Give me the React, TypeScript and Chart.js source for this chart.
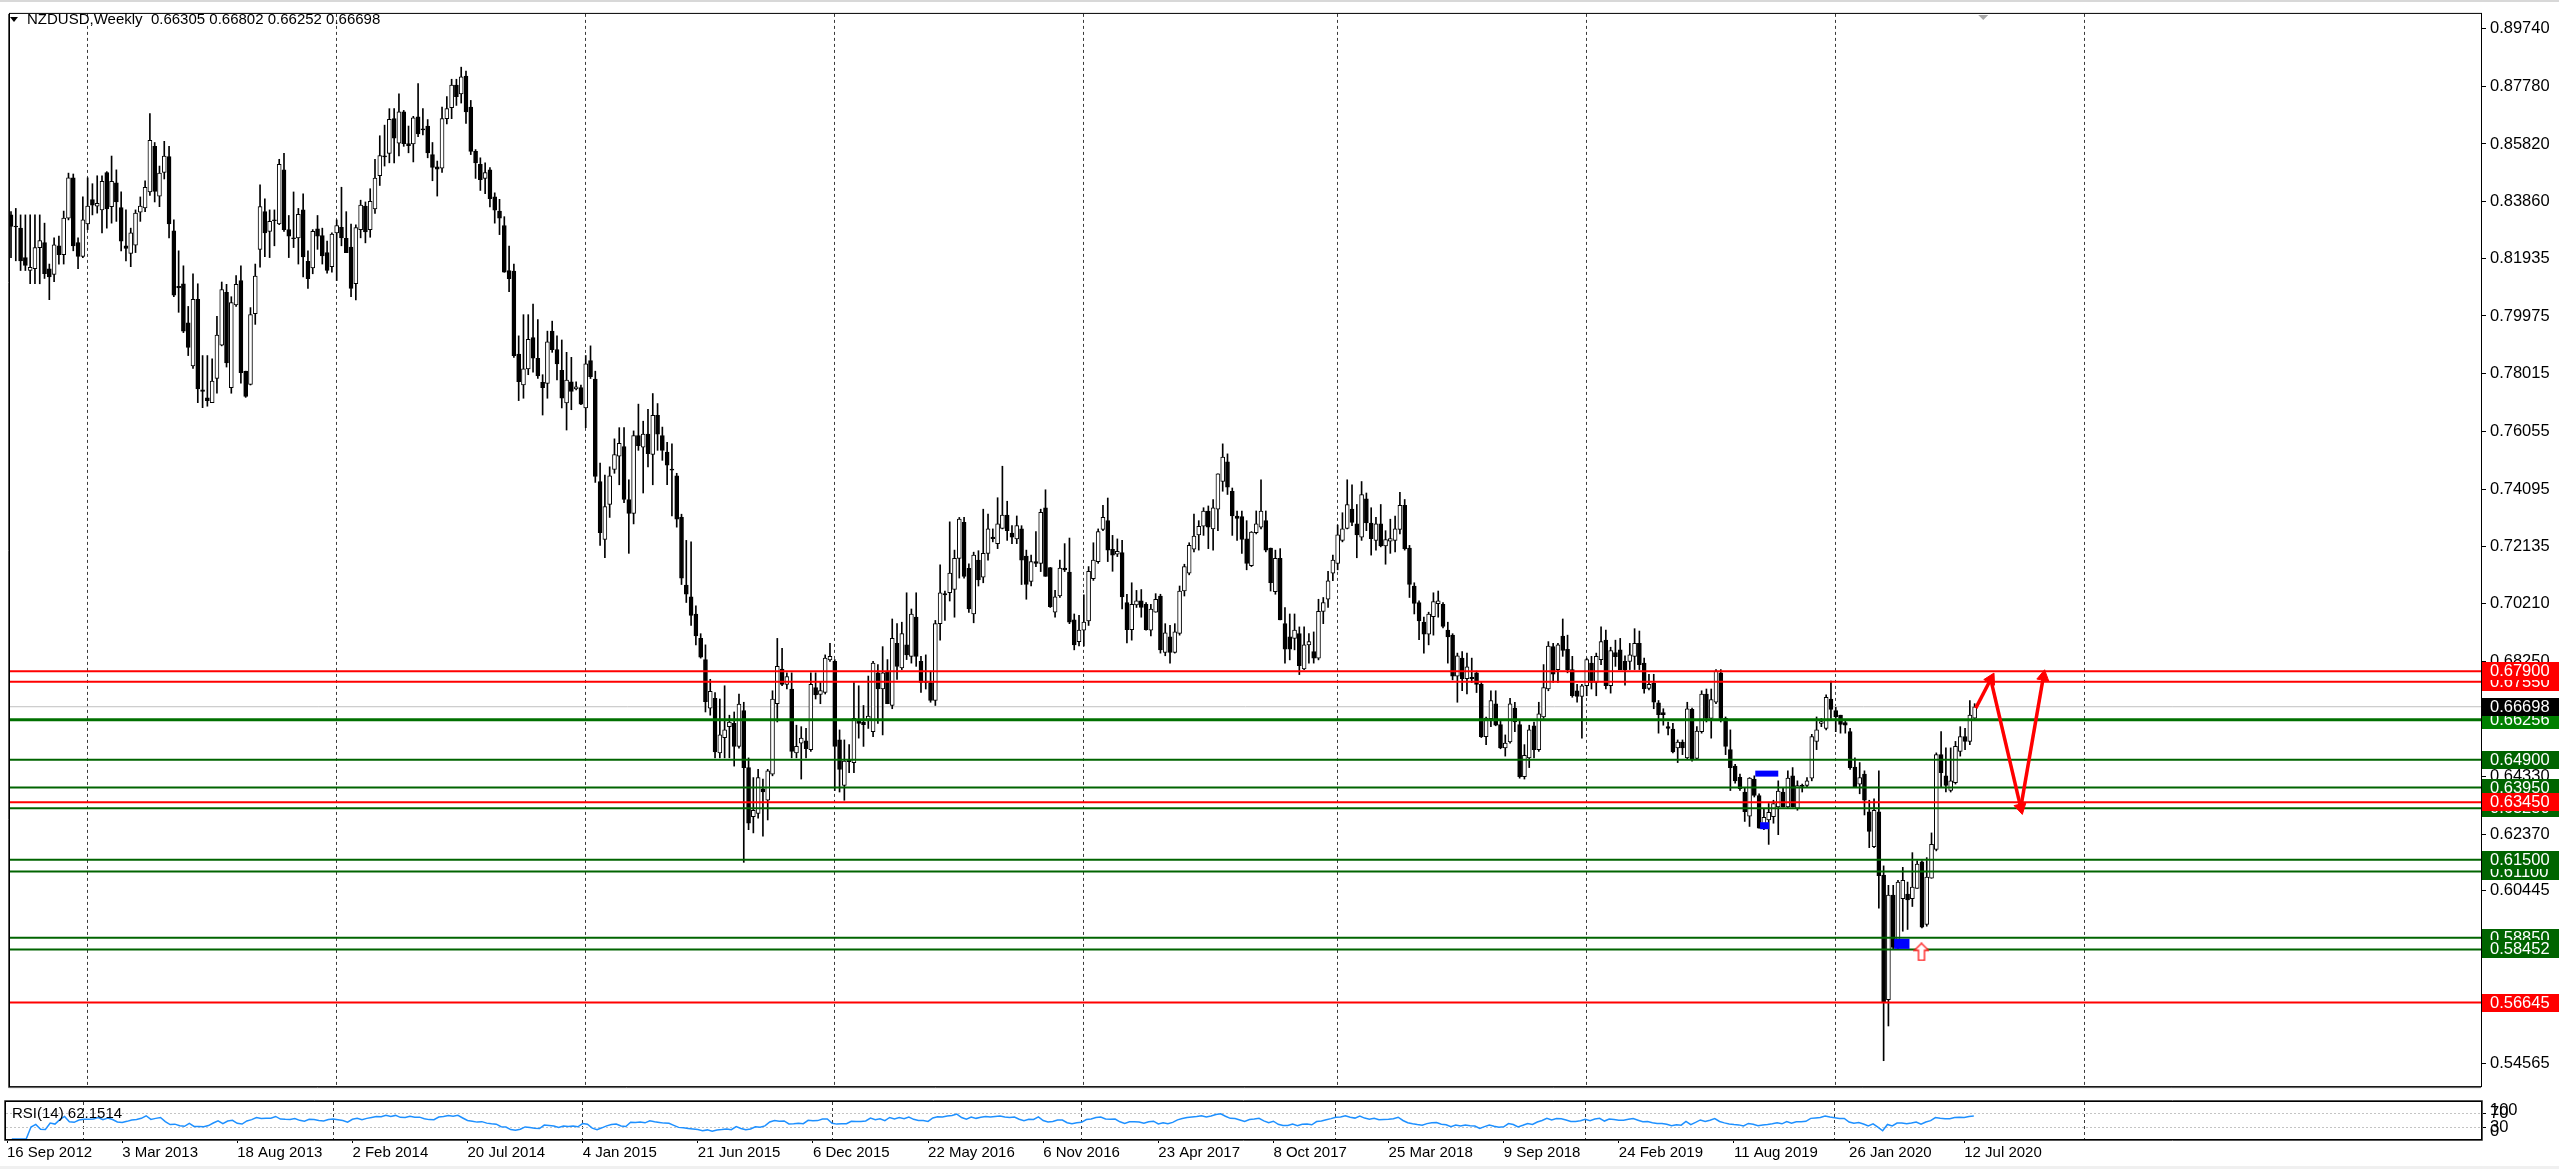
import React, { useEffect, useRef } from 'react';
import { Chart, registerables } from 'chart.js';

Chart.register(...registerables);

const FONT = '"Liberation Sans", Arial, sans-serif';

// ---- weekly NZDUSD candles, week 0 = 16 Sep 2012 ----
const opens = [
  .8341,.8302,.8296,.8196,.8152,.8158,.8230,.8247,.8158,.8139,
  .8236,.8206,.8330,.8467,.8247,.8200,.8310,.8393,.8371,.8358,
  .8485,.8369,.8450,.8366,.8236,.8210,.8238,.8350,.8365,.8419,
  .8574,.8405,.8485,.8539,.8287,.8098,.8107,.7974,.7828,.8054,
  .7747,.7719,.7703,.7785,.7898,.8078,.7754,.8035,.8118,.7810,
  .7765,.8005,.8224,.8352,.8285,.8324,.8310,.8494,.8291,.8261,
  .8263,.8358,.8183,.8161,.8294,.8271,.8213,.8165,.8280,.8299,
  .8261,.8232,.8107,.8291,.8371,.8291,.8361,.8474,.8541,.8550,
  .8668,.8585,.8691,.8583,.8582,.8674,.8632,.8643,.8546,.8504,
  .8500,.8668,.8705,.8782,.8752,.8813,.8707,.8557,.8513,.8465,
  .8494,.8402,.8354,.8305,.8152,.8150,.7868,.7763,.7818,.7924,
  .7854,.7772,.7768,.7946,.7883,.7813,.7702,.7774,.7750,.7754,
  .7685,.7846,.7783,.7435,.7238,.7357,.7476,.7521,.7554,.7374,
  .7327,.7591,.7552,.7596,.7527,.7660,.7591,.7535,.7477,.7454,
  .7313,.7083,.7043,.6985,.6902,.6830,.6665,.6698,.6513,.6565,
  .6602,.6613,.6535,.6657,.6463,.6296,.6307,.6391,.6352,.6441,
  .6680,.6798,.6746,.6730,.6513,.6546,.6554,.6524,.6735,.6712,
  .6718,.6829,.6824,.6557,.6402,.6491,.6480,.6624,.6618,.6627,
  .6585,.6785,.6730,.6791,.6674,.6885,.6802,.6880,.6841,.6974,
  .6824,.6757,.6752,.6691,.6952,.7054,.7057,.7068,.7174,.7296,
  .7140,.6985,.7168,.7110,.7191,.7246,.7224,.7276,.7321,.7260,
  .7240,.7274,.7182,.7096,.7163,.7157,.7346,.7143,.6991,.7046,
  .7141,.7127,.6965,.6891,.6930,.6961,.7105,.7163,.7272,.7302,
  .7205,.7188,.7194,.7024,.6932,.7016,.7030,.7018,.6930,.6991,
  .7046,.6854,.6907,.6854,.6919,.7063,.7124,.7205,.7254,.7283,
  .7335,.7274,.7341,.7435,.7502,.7402,.7318,.7316,.7240,.7149,
  .7261,.7280,.7302,.7209,.7061,.7174,.6952,.6907,.6902,.6918,
  .6798,.6880,.6857,.6835,.6994,.7035,.7124,.7157,.7235,.7276,
  .7341,.7291,.7246,.7376,.7294,.7235,.7291,.7216,.7232,.7235,
  .7272,.7354,.7209,.7080,.7024,.6957,.6916,.6976,.7020,.7018,
  .6930,.6913,.6774,.6835,.6765,.6770,.6785,.6746,.6568,.6629,
  .6680,.6609,.6530,.6550,.6665,.6609,.6432,.6496,.6605,.6524,
  .6635,.6730,.6874,.6796,.6910,.6865,.6796,.6724,.6705,.6741,
  .6818,.6752,.6830,.6896,.6741,.6854,.6863,.6824,.6824,.6841,
  .6885,.6818,.6732,.6750,.6683,.6650,.6602,.6594,.6530,.6550,
  .6496,.6661,.6494,.6585,.6713,.6630,.6685,.6785,.6630,.6524,
  .6468,.6430,.6380,.6298,.6424,.6368,.6257,.6285,.6296,.6329,
  .6380,.6329,.6435,.6324,.6402,.6402,.6427,.6552,.6613,.6596,
  .6696,.6657,.6641,.6616,.6585,.6465,.6407,.6441,.6313,.6194,
  .6313,.6098,.5674,.6030,.5852,.6018,.6033,.6018,.6052,.6143,
  .5930,.6087,.6185,.6507,.6435,.6385,.6412,.6518,.6568,.6552,
  .66305,
];
const highs = [
  .8352,.8363,.8341,.8341,.8341,.8341,.8341,.8313,.8174,.8263,
  .8269,.8354,.8483,.8480,.8263,.8402,.8467,.8447,.8474,.8474,
  .8488,.8541,.8494,.8419,.8358,.8296,.8358,.8402,.8457,.8685,
  .8587,.8507,.8591,.8574,.8324,.8219,.8168,.8030,.8141,.8107,
  .7863,.7863,.7852,.7996,.8113,.8105,.8063,.8135,.8168,.7810,
  .8026,.8174,.8443,.8396,.8358,.8358,.8530,.8550,.8339,.8419,
  .8363,.8413,.8219,.8291,.8339,.8296,.8252,.8280,.8324,.8435,
  .8352,.8310,.8307,.8391,.8385,.8430,.8530,.8610,.8646,.8702,
  .8702,.8752,.8696,.8643,.8676,.8787,.8702,.8665,.8587,.8524,
  .8707,.8743,.8802,.8802,.8843,.8830,.8730,.8563,.8535,.8518,
  .8502,.8416,.8394,.8335,.8235,.8174,.7930,.8002,.8002,.8038,
  .7985,.7798,.7946,.7980,.7930,.7916,.7874,.7857,.7774,.7763,
  .7863,.7896,.7810,.7498,.7457,.7485,.7580,.7618,.7618,.7441,
  .7607,.7698,.7640,.7680,.7734,.7700,.7620,.7568,.7563,.7463,
  .7324,.7235,.7230,.7013,.6918,.6880,.6763,.6718,.6696,.6741,
  .6641,.6652,.6713,.6685,.6496,.6429,.6457,.6424,.6457,.6724,
  .6902,.6868,.6785,.6785,.6607,.6602,.6596,.6785,.6785,.6752,
  .6846,.6885,.6830,.6591,.6557,.6541,.6752,.6741,.6674,.6774,
  .6824,.6813,.6874,.6830,.6968,.6952,.6957,.7057,.7002,.7057,
  .6841,.6846,.6791,.6963,.7152,.7063,.7298,.7202,.7313,.7313,
  .7155,.7195,.7200,.7341,.7324,.7274,.7380,.7487,.7368,.7285,
  .7318,.7285,.7202,.7185,.7265,.7341,.7407,.7143,.7065,.7168,
  .7224,.7243,.6985,.6980,.7050,.7146,.7227,.7274,.7354,.7379,
  .7252,.7240,.7235,.7052,.7091,.7065,.7068,.7024,.7018,.7054,
  .7052,.6952,.6946,.6952,.7080,.7154,.7227,.7324,.7302,.7346,
  .7352,.7374,.7461,.7563,.7529,.7413,.7335,.7335,.7302,.7265,
  .7335,.7441,.7335,.7209,.7202,.7207,.7007,.6985,.6985,.6941,
  .6941,.6918,.6924,.7035,.7041,.7130,.7185,.7287,.7329,.7441,
  .7424,.7357,.7435,.7396,.7346,.7313,.7357,.7268,.7307,.7318,
  .7398,.7374,.7218,.7091,.7030,.6974,.6991,.7057,.7063,.7024,
  .6957,.6918,.6852,.6857,.6852,.6835,.6791,.6752,.6635,.6724,
  .6724,.6624,.6574,.6698,.6685,.6624,.6541,.6607,.6618,.6685,
  .6813,.6891,.6885,.6885,.6968,.6913,.6841,.6746,.6746,.6835,
  .6841,.6852,.6941,.6930,.6872,.6896,.6902,.6843,.6885,.6935,
  .6927,.6835,.6780,.6780,.6691,.6663,.6618,.6613,.6557,.6557,
  .6685,.6665,.6602,.6724,.6730,.6730,.6796,.6796,.6635,.6591,
  .6474,.6441,.6396,.6429,.6435,.6374,.6324,.6341,.6352,.6418,
  .6396,.6452,.6463,.6418,.6407,.6429,.6576,.6635,.6630,.6710,
  .6757,.6668,.6641,.6624,.6596,.6496,.6480,.6452,.6352,.6357,
  .6452,.6129,.6063,.6063,.6080,.6124,.6074,.6174,.6146,.6146,
  .6157,.6241,.6513,.6585,.6530,.6530,.6552,.6602,.6596,.6691,
  .66802,
];
const lows = [
  .8196,.8185,.8152,.8152,.8107,.8107,.8107,.8125,.8053,.8114,
  .8174,.8174,.8324,.8219,.8158,.8196,.8291,.8341,.8347,.8280,
  .8296,.8313,.8319,.8219,.8185,.8165,.8213,.8319,.8352,.8407,
  .8385,.8369,.8463,.8263,.8063,.8010,.7941,.7863,.7819,.7703,
  .7686,.7691,.7703,.7735,.7896,.7824,.7735,.8030,.7769,.7721,
  .7763,.7969,.8163,.8199,.8196,.8236,.8308,.8285,.8196,.8230,
  .8174,.8130,.8091,.8141,.8224,.8174,.8143,.8146,.8118,.8236,
  .8213,.8063,.8052,.8263,.8246,.8265,.8346,.8441,.8507,.8518,
  .8518,.8541,.8574,.8552,.8521,.8607,.8613,.8535,.8457,.8405,
  .8485,.8650,.8668,.8713,.8721,.8652,.8546,.8465,.8424,.8413,
  .8368,.8313,.8274,.8146,.8080,.7857,.7710,.7718,.7798,.7807,
  .7785,.7661,.7718,.7874,.7780,.7685,.7610,.7679,.7746,.7696,
  .7618,.7785,.7432,.7218,.7176,.7313,.7463,.7424,.7363,.7191,
  .7291,.7541,.7396,.7485,.7424,.7541,.7507,.7424,.7318,.7280,
  .7085,.7024,.6946,.6880,.6835,.6652,.6641,.6496,.6496,.6496,
  .6496,.6468,.6529,.6141,.6252,.6241,.6291,.6230,.6285,.6435,
  .6618,.6741,.6730,.6496,.6496,.6424,.6496,.6518,.6696,.6680,
  .6713,.6824,.6385,.6380,.6352,.6446,.6446,.6563,.6535,.6596,
  .6568,.6613,.6574,.6680,.6663,.6763,.6796,.6830,.6818,.6807,
  .6718,.6730,.6685,.6674,.6896,.6963,.7029,.6974,.7107,.7107,
  .6990,.6955,.7080,.7091,.7168,.7230,.7207,.7274,.7235,.7224,
  .7224,.7085,.7035,.7080,.7146,.7129,.7113,.7007,.6974,.7041,
  .7129,.6952,.6863,.6876,.6876,.6946,.7099,.7157,.7268,.7163,
  .7130,.7180,.7002,.6887,.6896,.7007,.6974,.6930,.6910,.6991,
  .6852,.6843,.6818,.6852,.6913,.7046,.7118,.7196,.7202,.7252,
  .7207,.7202,.7268,.7402,.7391,.7252,.7235,.7191,.7135,.7146,
  .7257,.7274,.7196,.7063,.7052,.6965,.6818,.6829,.6863,.6779,
  .6796,.6818,.6818,.6829,.6952,.7007,.7098,.7135,.7230,.7274,
  .7285,.7176,.7235,.7268,.7185,.7202,.7213,.7154,.7191,.7196,
  .7257,.7202,.7041,.6985,.6898,.6852,.6880,.6913,.6974,.6938,
  .6818,.6761,.6685,.6724,.6713,.6752,.6718,.6565,.6541,.6602,
  .6605,.6527,.6502,.6546,.6585,.6427,.6424,.6463,.6496,.6518,
  .6630,.6724,.6752,.6752,.6841,.6785,.6702,.6685,.6563,.6707,
  .6730,.6707,.6813,.6730,.6716,.6807,.6796,.6743,.6796,.6796,
  .6796,.6716,.6727,.6663,.6580,.6607,.6574,.6513,.6480,.6507,
  .6491,.6485,.6491,.6580,.6618,.6563,.6680,.6618,.6507,.6385,
  .6410,.6385,.6280,.6263,.6363,.6257,.6252,.6202,.6274,.6235,
  .6329,.6324,.6329,.6318,.6380,.6396,.6418,.6524,.6602,.6591,
  .6630,.6585,.6580,.6580,.6457,.6396,.6374,.6302,.6191,.6191,
  .5985,.5467,.5585,.5846,.5846,.5907,.5913,.5991,.6052,.5918,
  .5924,.6087,.6180,.6396,.6380,.6380,.6407,.6502,.6524,.6541,
  .66252,
];
const closes = [
  .8302,.8300,.8185,.8169,.8163,.8230,.8254,.8141,.8130,.8239,
  .8206,.8330,.8467,.8236,.8200,.8324,.8371,.8374,.8380,.8455,
  .8361,.8455,.8385,.8252,.8227,.8280,.8347,.8371,.8435,.8594,
  .8421,.8483,.8541,.8310,.8068,.8093,.7946,.7891,.8054,.7750,
  .7741,.7710,.7776,.7933,.8087,.7838,.8043,.8105,.7805,.7724,
  .8002,.8133,.8369,.8280,.8319,.8321,.8513,.8291,.8269,.8260,
  .8343,.8198,.8124,.8285,.8269,.8202,.8152,.8276,.8305,.8263,
  .8213,.8091,.8298,.8374,.8283,.8387,.8466,.8543,.8538,.8666,
  .8602,.8691,.8583,.8576,.8671,.8616,.8630,.8552,.8502,.8496,
  .8668,.8702,.8782,.8743,.8810,.8691,.8557,.8518,.8461,.8485,
  .8396,.8357,.8330,.8146,.8124,.7863,.7774,.7818,.7918,.7854,
  .7794,.7754,.7910,.7883,.7835,.7718,.7780,.7741,.7757,.7698,
  .7835,.7791,.7452,.7261,.7350,.7454,.7527,.7565,.7374,.7327,
  .7591,.7557,.7596,.7530,.7660,.7596,.7541,.7491,.7474,.7307,
  .7107,.7052,.6980,.6910,.6838,.6687,.6722,.6516,.6574,.6591,
  .6618,.6535,.6679,.6463,.6274,.6318,.6429,.6380,.6452,.6696,
  .6807,.6746,.6772,.6518,.6535,.6563,.6527,.6746,.6710,.6725,
  .6835,.6841,.6535,.6457,.6485,.6483,.6630,.6613,.6609,.6638,
  .6818,.6730,.6785,.6680,.6902,.6807,.6918,.6846,.6985,.6841,
  .6752,.6752,.6691,.6952,.7057,.7050,.7124,.7174,.7307,.7113,
  .7002,.7185,.7101,.7191,.7274,.7241,.7291,.7321,.7268,.7246,
  .7285,.7168,.7085,.7163,.7157,.7330,.7113,.7010,.7043,.7141,
  .7135,.6957,.6880,.6930,.6957,.7130,.7168,.7265,.7313,.7202,
  .7185,.7198,.7043,.6932,.7018,.7030,.7007,.6932,.7002,.7035,
  .6863,.6921,.6854,.6924,.7063,.7146,.7218,.7250,.7283,.7335,
  .7280,.7346,.7461,.7518,.7416,.7318,.7310,.7238,.7157,.7263,
  .7291,.7335,.7202,.7091,.7174,.6965,.6865,.6865,.6930,.6809,
  .6880,.6891,.6835,.6994,.7024,.7098,.7168,.7254,.7274,.7357,
  .7296,.7254,.7391,.7294,.7241,.7291,.7216,.7238,.7241,.7274,
  .7354,.7207,.7085,.7021,.6961,.6916,.6985,.7027,.7030,.6943,
  .6907,.6774,.6843,.6765,.6805,.6765,.6746,.6568,.6631,.6691,
  .6607,.6530,.6546,.6680,.6618,.6432,.6505,.6591,.6524,.6646,
  .6735,.6876,.6780,.6880,.6861,.6796,.6707,.6705,.6741,.6830,
  .6752,.6841,.6891,.6741,.6861,.6840,.6796,.6796,.6846,.6885,
  .6813,.6730,.6746,.6685,.6643,.6643,.6596,.6516,.6550,.6530,
  .6663,.6491,.6587,.6713,.6630,.6694,.6791,.6630,.6535,.6463,
  .6418,.6391,.6313,.6427,.6368,.6257,.6294,.6311,.6341,.6383,
  .6329,.6427,.6329,.6402,.6399,.6418,.6568,.6591,.6619,.6702,
  .6661,.6635,.6610,.6607,.6463,.6398,.6429,.6352,.6246,.6318,
  .6096,.5668,.6030,.5852,.6074,.6080,.6013,.6057,.6135,.5921,
  .6091,.6202,.6507,.6446,.6402,.6418,.6535,.6568,.6552,.6641,
  .66698,
];

// bottom date axis (every 24 weeks)
const dateTickIdx = [0, 24, 48, 72, 96, 120, 144, 168, 192, 216, 240, 264, 288, 312, 336, 360, 384, 408];
const dateTickLabels = [
  '16 Sep 2012', '3 Mar 2013', '18 Aug 2013', '2 Feb 2014', '20 Jul 2014', '4 Jan 2015',
  '21 Jun 2015', '6 Dec 2015', '22 May 2016', '6 Nov 2016', '23 Apr 2017', '8 Oct 2017',
  '25 Mar 2018', '9 Sep 2018', '24 Feb 2019', '11 Aug 2019', '26 Jan 2020', '12 Jul 2020',
];
// first week of each year (period separators)
const yearLineIdx = [16, 68, 120, 172, 224, 277, 329, 381, 433];

// right price axis
const priceTicks = [
  0.8974, 0.8778, 0.8582, 0.8386, 0.81935, 0.79975, 0.78015, 0.76055, 0.74095, 0.72135,
  0.7021, 0.6825, 0.6629, 0.6433, 0.6237, 0.60445, 0.58485, 0.56525, 0.54565,
];

// horizontal levels (listed in label drawing order)
const greenLevels = [0.5885, 0.58452, 0.611, 0.615, 0.6325, 0.6395, 0.649, 0.66256];
const mainGreenLevel = 0.66256;
const redLevels = [0.56645, 0.6345, 0.6755, 0.679];
const bidPrice = 0.66698;

// projection arrows [week, price]
const arrowLegs = [
  [[410.24, 0.6665], [413.37, 0.6763]],
  [[413.37, 0.6763], [419.63, 0.6327]],
  [[419.63, 0.6327], [424.36, 0.6772]],
];
// blue rectangles: [weekFrom, weekTo, priceMid]
const blueRects = [
  [364.2, 369.0, 0.64425],
  [365.2, 367.1, 0.62655],
  [393.2, 396.4, 0.5864],
];
const blueRectPx = [6, 7, 10];
// hollow up arrow marker
const upMarker = [398.9, 0.5837];

const rsiPeriod = 14;
const rsiText = 'RSI(14) 62.1514';
const headerText = 'NZDUSD,Weekly  0.66305 0.66802 0.66252 0.66698';

const X_MIN = -0.21;
const X_MAX = 515.73;
const Y_MIN = 0.53807;
const Y_MAX = 0.9024;

function computeRsi(c: number[], n: number) {
  const out: (number | null)[] = [null];
  let ag = 0;
  let al = 0;
  for (let i = 1; i < c.length; i++) {
    const d = c[i] - c[i - 1];
    const g = Math.max(d, 0);
    const l = Math.max(-d, 0);
    if (i <= n) {
      ag = (ag * (i - 1) + g) / i;
      al = (al * (i - 1) + l) / i;
    } else {
      ag = (ag * (n - 1) + g) / n;
      al = (al * (n - 1) + l) / n;
    }
    out.push(al === 0 ? 100 : 100 - 100 / (1 + ag / al));
  }
  return out;
}

function makeUpArrow() {
  const c = document.createElement('canvas');
  c.width = 16;
  c.height = 19;
  const g = c.getContext('2d')!;
  g.beginPath();
  g.moveTo(8, 1);
  g.lineTo(15, 8);
  g.lineTo(11, 8);
  g.lineTo(11, 18);
  g.lineTo(5, 18);
  g.lineTo(5, 8);
  g.lineTo(1, 8);
  g.closePath();
  g.fillStyle = '#ffffff';
  g.fill();
  g.strokeStyle = '#ff2020';
  g.lineWidth = 1.4;
  g.stroke();
  return c;
}

export default function App() {
  const mainRef = useRef<HTMLCanvasElement>(null);
  const rsiRef = useRef<HTMLCanvasElement>(null);

  useEffect(() => {
    Chart.defaults.font.family = FONT;
    const axisFont = { family: FONT, size: 15 };
    const priceFont = { family: FONT, size: 16.5 };

    const bodies = opens.map((o, i) => ({ x: i, y: [o, closes[i]] }));
    const wicks = lows.map((l, i) => ({ x: i, y: [l, highs[i]] }));
    const bodyFill = opens.map((o, i) => (closes[i] >= o ? '#ffffff' : '#000000'));

    const levelDs = (v: number, color: string, width: number, order: number) => ({
      type: 'line' as const,
      data: [{ x: X_MIN - 2, y: v }, { x: X_MAX + 2, y: v }],
      borderColor: color,
      borderWidth: width,
      pointRadius: 0,
      clip: 0,
      order,
    });

    const arrowDatasets = arrowLegs.map((leg) => ({
      type: 'line' as const,
      data: leg.map((p) => ({ x: p[0], y: p[1] })),
      borderColor: '#ff0000',
      borderWidth: 3.5,
      pointRadius: (ctx: any) => (ctx.dataIndex === 1 ? 7 : 0),
      pointStyle: 'triangle',
      pointBackgroundColor: '#ff0000',
      pointBorderColor: '#ff0000',
      pointBorderWidth: 1,
      rotation: (ctx: any) => {
        const ch = ctx.chart;
        const xs = ch.scales.x;
        const ys = ch.scales.y;
        if (!xs || !ys) return 0;
        const dx = xs.getPixelForValue(leg[1][0]) - xs.getPixelForValue(leg[0][0]);
        const dy = ys.getPixelForValue(leg[1][1]) - ys.getPixelForValue(leg[0][1]);
        return (Math.atan2(dx, -dy) * 180) / Math.PI;
      },
      clip: 0,
      order: 0,
    }));

    const rectDatasets = blueRects.map((r, k) => ({
      type: 'line' as const,
      data: [{ x: r[0], y: r[2] }, { x: r[1], y: r[2] }],
      borderColor: '#0000ff',
      borderWidth: blueRectPx[k],
      borderCapStyle: 'butt' as const,
      pointRadius: 0,
      order: 1,
    }));

    const arrowImg = makeUpArrow();

    const mainDecor = {
      id: 'mainDecor',
      afterDraw(chart: any) {
        const { ctx, chartArea: a, scales } = chart;
        const ys = scales.y;
        const xs = scales.x;
        ctx.save();
        // frame
        ctx.strokeStyle = '#000';
        ctx.lineWidth = 1;
        ctx.strokeRect(a.left - 0.5, a.top - 0.5, a.right - a.left + 1, a.bottom - a.top + 1);
        ctx.strokeStyle = '#555';
        ctx.beginPath();
        ctx.moveTo(a.left - 1.5, a.top);
        ctx.lineTo(a.left - 1.5, a.bottom + 1.5);
        ctx.lineTo(a.right, a.bottom + 1.5);
        ctx.stroke();
        // chart shift marker
        const sx = xs.getPixelForValue(411.8);
        ctx.fillStyle = '#a8a8a8';
        ctx.beginPath();
        ctx.moveTo(sx - 5, a.top + 1);
        ctx.lineTo(sx + 5, a.top + 1);
        ctx.lineTo(sx, a.top + 6);
        ctx.closePath();
        ctx.fill();
        // header
        ctx.fillStyle = '#000';
        ctx.beginPath();
        ctx.moveTo(10, 17);
        ctx.lineTo(18, 17);
        ctx.lineTo(14, 22);
        ctx.closePath();
        ctx.fill();
        ctx.font = '15px ' + FONT;
        ctx.textBaseline = 'middle';
        ctx.textAlign = 'left';
        ctx.fillText(headerText, 27, 20);
        // price boxes
        const boxes: [number, string][] = [];
        greenLevels.forEach((v) => boxes.push([v, v === mainGreenLevel ? '#008000' : '#006400']));
        redLevels.forEach((v) => boxes.push([v, '#ff0000']));
        boxes.push([bidPrice, '#000000']);
        const bx = a.right + 1;
        const bw = chart.width - bx;
        ctx.font = '16.5px ' + FONT;
        boxes.forEach(([v, col]) => {
          const py = ys.getPixelForValue(v);
          ctx.fillStyle = col;
          ctx.fillRect(bx, Math.round(py - 9), bw, 18);
          ctx.fillStyle = '#ffffff';
          ctx.fillText(v.toFixed(5), a.right + 9, py + 0.5);
        });
        ctx.restore();
      },
    };

    const main = new Chart(mainRef.current!, {
      type: 'bar',
      data: {
        datasets: [
          {
            type: 'line',
            data: [{ x: X_MIN - 2, y: bidPrice }, { x: X_MAX + 2, y: bidPrice }],
            borderColor: '#c0c0c0',
            borderWidth: 1,
            pointRadius: 0,
            clip: 0,
            order: 6,
          } as any,
          {
            type: 'bar',
            data: wicks as any,
            backgroundColor: '#000000',
            borderWidth: 0,
            grouped: false,
            barThickness: 1,
            maxBarThickness: 1,
            minBarLength: 1,
            order: 5,
          } as any,
          {
            type: 'bar',
            data: bodies as any,
            backgroundColor: bodyFill,
            borderColor: '#000000',
            borderWidth: 1,
            borderSkipped: false,
            grouped: false,
            barThickness: 4,
            maxBarThickness: 4,
            minBarLength: 1,
            order: 4,
          } as any,
          ...greenLevels.map((v) => levelDs(v, v === mainGreenLevel ? '#007000' : '#006400', v === mainGreenLevel ? 3 : 2, 3)),
          ...redLevels.map((v) => levelDs(v, '#ff0000', 2, 2)),
          ...rectDatasets,
          ...arrowDatasets,
          {
            type: 'line',
            data: [{ x: upMarker[0], y: upMarker[1] }],
            showLine: false,
            pointStyle: arrowImg,
            pointRadius: 9,
            order: -1,
          } as any,
        ] as any,
      },
      options: {
        responsive: false,
        animation: false,
        devicePixelRatio: 1,
        events: [],
        layout: { padding: { left: 6, top: 5, right: 0, bottom: 2 } },
        plugins: { legend: { display: false }, tooltip: { enabled: false } },
        scales: {
          x: {
            type: 'linear',
            min: X_MIN,
            max: X_MAX,
            offset: false,
            afterBuildTicks: (s: any) => {
              s.ticks = yearLineIdx.map((v) => ({ value: v }));
            },
            afterFit: (s: any) => {
              s.height = 0;
            },
            ticks: { display: false },
            grid: { color: '#3a3a3a', lineWidth: 1, drawTicks: false, offset: false },
            border: { display: false, dash: [3, 3] },
          },
          y: {
            type: 'linear',
            position: 'right',
            min: Y_MIN,
            max: Y_MAX,
            stacked: false,
            afterBuildTicks: (s: any) => {
              s.ticks = priceTicks.map((v) => ({ value: v }));
            },
            afterFit: (s: any) => {
              s.width = 78;
            },
            ticks: {
              font: priceFont,
              color: '#000',
              padding: 4,
              autoSkip: false,
              callback: (v: any) => Number(v).toFixed(5),
            },
            grid: { drawOnChartArea: false, drawTicks: true, tickLength: 5, color: '#000' },
            border: { display: true, color: '#000' },
          },
        },
      } as any,
      plugins: [mainDecor],
    });

    const rsi = computeRsi(closes, rsiPeriod);

    const rsiDecor = {
      id: 'rsiDecor',
      afterDraw(chart: any) {
        const { ctx, chartArea: a, scales } = chart;
        const ys = scales.y;
        ctx.save();
        ctx.strokeStyle = '#000';
        ctx.lineWidth = 1;
        ctx.strokeRect(a.left - 0.5, a.top - 0.5, a.right - a.left + 1, a.bottom - a.top + 1);
        ctx.strokeStyle = '#555';
        ctx.beginPath();
        ctx.moveTo(a.left - 1.5, a.top - 1.5);
        ctx.lineTo(a.right + 1.5, a.top - 1.5);
        ctx.lineTo(a.right + 1.5, a.bottom + 1.5);
        ctx.lineTo(a.left - 1.5, a.bottom + 1.5);
        ctx.closePath();
        ctx.stroke();
        ctx.font = '15px ' + FONT;
        ctx.textBaseline = 'middle';
        ctx.textAlign = 'left';
        ctx.fillStyle = '#000';
        ctx.fillText(rsiText, 12, 14);
        const lx = a.right + 9;
        ctx.font = '16.5px ' + FONT;
        ctx.fillText('100', lx, ys.getPixelForValue(100) + 8);
        ctx.fillText('70', lx, ys.getPixelForValue(70));
        ctx.fillText('30', lx, ys.getPixelForValue(30));
        ctx.fillText('0', lx, ys.getPixelForValue(0) - 8);
        ctx.restore();
      },
    };

    const rsiChart = new Chart(rsiRef.current!, {
      type: 'line',
      data: {
        datasets: [
          {
            data: rsi.map((v, i) => ({ x: i, y: v })) as any,
            borderColor: '#1e90ff',
            borderWidth: 1.5,
            pointRadius: 0,
            xAxisID: 'x',
            yAxisID: 'y',
          },
        ],
      },
      options: {
        responsive: false,
        animation: false,
        devicePixelRatio: 1,
        events: [],
        layout: { padding: { left: 6, top: 2, right: 0, bottom: 0 } },
        plugins: { legend: { display: false }, tooltip: { enabled: false } },
        scales: {
          x: {
            type: 'linear',
            position: 'bottom',
            min: X_MIN,
            max: X_MAX,
            afterBuildTicks: (s: any) => {
              s.ticks = dateTickIdx.map((v) => ({ value: v }));
            },
            afterFit: (s: any) => {
              s.height = 30;
            },
            ticks: {
              font: axisFont,
              color: '#000',
              align: 'start',
              padding: 1,
              autoSkip: false,
              maxRotation: 0,
              minRotation: 0,
              callback: (_v: any, i: number) => dateTickLabels[i],
            },
            grid: { drawOnChartArea: false, drawTicks: true, tickLength: 4, color: '#000' },
            border: { display: false },
          },
          x2: {
            type: 'linear',
            position: 'top',
            min: X_MIN,
            max: X_MAX,
            afterBuildTicks: (s: any) => {
              s.ticks = yearLineIdx.map((v) => ({ value: v }));
            },
            afterFit: (s: any) => {
              s.height = 0;
            },
            ticks: { display: false },
            grid: { color: '#3a3a3a', drawTicks: false },
            border: { display: false, dash: [3, 3] },
          },
          y: {
            type: 'linear',
            position: 'right',
            min: 0,
            max: 100,
            afterBuildTicks: (s: any) => {
              s.ticks = [30, 70].map((v) => ({ value: v }));
            },
            afterFit: (s: any) => {
              s.width = 78;
            },
            ticks: { display: false },
            grid: { color: '#c4c4c4', drawTicks: true, tickLength: 5, tickColor: '#000' },
            border: { display: false, dash: [2, 2] },
          },
        },
      } as any,
      plugins: [rsiDecor],
    });

    return () => {
      main.destroy();
      rsiChart.destroy();
    };
  }, []);

  return (
    <div
      style={{
        position: 'fixed',
        left: 0,
        top: 0,
        width: 2559,
        height: 1169,
        background: '#ffffff',
        overflow: 'hidden',
      }}
    >
      <canvas ref={mainRef} width={2559} height={1100} style={{ position: 'absolute', left: 0, top: 0 }} />
      <canvas ref={rsiRef} width={2559} height={69} style={{ position: 'absolute', left: 0, top: 1100 }} />
      <div style={{ position: 'absolute', left: 0, top: 0, width: 2559, height: 2, background: '#d8d8d8' }} />
      <div style={{ position: 'absolute', left: 0, top: 1166, width: 2559, height: 3, background: '#f0f0f0' }} />
    </div>
  );
}
